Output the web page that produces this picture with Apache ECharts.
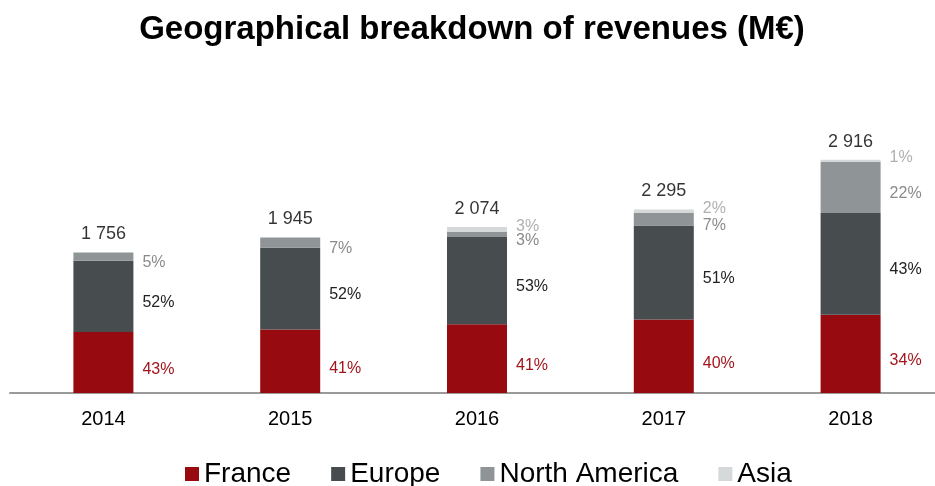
<!DOCTYPE html>
<html>
<head>
<meta charset="utf-8">
<script src="https://cdn.jsdelivr.net/npm/echarts@6/dist/echarts.min.js"></script>
<style>
  html, body { margin: 0; padding: 0; background: #fff; overflow: hidden; }
  #main { width: 944px; height: 486px; }
</style>
</head>
<body>
<div id="main"></div>
<script>
const years = ["2014", "2015", "2016", "2017", "2018"];
const france = [762, 795, 860, 920, 979];
const europe = [891, 1020, 1090, 1175, 1270];
const northAmerica = [103, 130, 62, 155, 638];
const asia = [0, 0, 62, 45, 29];
const totals = [1756, 1945, 2074, 2295, 2916];

const francePct = ["43%", "41%", "41%", "40%", "34%"];
const europePct = ["52%", "52%", "53%", "51%", "43%"];
const naPct = ["5%", "7%", "3%", "7%", "22%"];
const asiaPct = ["", "", "3%", "2%", "1%"];

const font = "Liberation Sans, Arial, sans-serif";

// 在柱子右侧显示百分比
function pctLabel(texts, color, offsetY) {
  return {
    show: true,
    position: "right",
    distance: 9,
    offset: [0, offsetY],
    color: color,
    fontSize: 16,
    fontFamily: font,
    formatter: (p) => texts[p.dataIndex],
  };
}

const myChart = echarts.init(document.getElementById("main"));

const option = {
  animation: false,
  title: {
    text: "Geographical breakdown of revenues (M€)",
    left: "center",
    top: 8,
    textStyle: { fontSize: 33, fontWeight: "bold", color: "#000", fontFamily: font },
  },
  legend: {
    data: ["France", "Europe", "North America", "Asia"],
    left: 180,
    top: 455,
    icon: "rect",
    itemWidth: 14,
    itemHeight: 14,
    itemGap: 40,
    textStyle: { fontSize: 28, color: "#000", fontFamily: font },
  },
  grid: {
    left: 10,
    right: 0,
    top: 113,
    bottom: 93,
  },
  xAxis: {
    type: "category",
    data: years,
    axisLine: { lineStyle: { color: "#9a9a9a", width: 2 } },
    axisTick: { show: false },
    axisLabel: { fontSize: 20, color: "#000", margin: 16, fontFamily: font },
  },
  yAxis: {
    type: "value",
    min: 0,
    max: 3500,
    show: false,
    splitLine: { show: false },
  },
  series: [
    {
      name: "France",
      type: "bar",
      stack: "rev",
      barWidth: 60,
      data: france,
      itemStyle: { color: "#960a10" },
      label: pctLabel(francePct, "#a3141c", 7),
    },
    {
      name: "Europe",
      type: "bar",
      stack: "rev",
      data: europe,
      itemStyle: { color: "#474c4f" },
      label: pctLabel(europePct, "#222", 6),
    },
    {
      name: "North America",
      type: "bar",
      stack: "rev",
      data: northAmerica,
      itemStyle: { color: "#8f9597" },
      label: pctLabel(naPct, "#8a8a8a", 6),
    },
    {
      name: "Asia",
      type: "bar",
      stack: "rev",
      data: asia,
      itemStyle: { color: "#d6d9d9" },
      label: pctLabel(asiaPct, "#b0b0b0", -3),
    },
    {
      name: "Total",
      type: "scatter",
      data: totals,
      symbolSize: 0,
      silent: true,
      label: {
        show: true,
        position: "top",
        distance: 9,
        fontSize: 18,
        color: "#000",
        fontFamily: font,
        formatter: (p) => String(totals[p.dataIndex]).replace(/\B(?=(\d{3})+$)/g, " "),
      },
    },
  ],
};

myChart.setOption(option);
</script>
</body>
</html>
